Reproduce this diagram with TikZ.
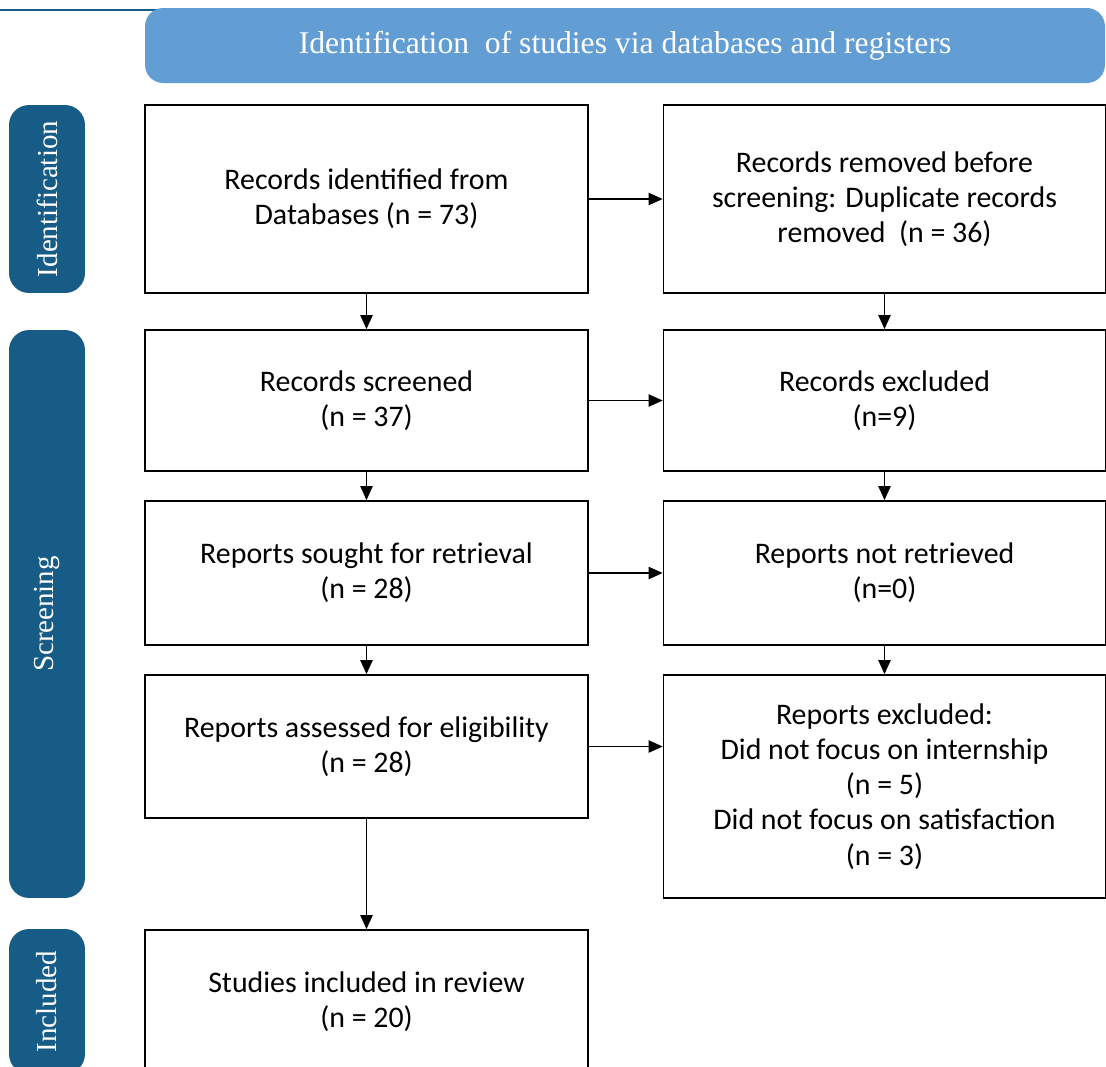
\documentclass[tikz,border=0pt]{standalone}
\usepackage{fontspec}
\setmainfont{Liberation Serif}
\newfontfamily\boxfont{Carlito}
\usetikzlibrary{arrows.meta}

\definecolor{barblue}{RGB}{98,158,212}
\definecolor{sideblue}{RGB}{23,91,135}

\tikzset{
  box/.style={draw, line width=1pt, align=center, minimum width=8.86cm,
    font=\boxfont\fontsize{17}{20}\selectfont},
  sidebar/.style={fill=sideblue, text=white, rounded corners=0.4cm, rotate=90,
    minimum height=1.52cm, font=\fontsize{16.5}{19}\selectfont},
  pfeil/.style={line width=0.8pt, -{Triangle[length=8pt,width=7pt]}}
}

\begin{document}
\begin{tikzpicture}[x=0.02cm, y=-0.02cm]
  \useasboundingbox (0,0) rectangle (1106,1066);

  % header
  \draw[sideblue, line width=1.2pt] (0,10) -- (170,10);
  \node (Kopf) at (625,45.5) [fill=barblue, text=white, rounded corners=0.36cm,
    minimum width=19.2cm, minimum height=1.5cm, font=\fontsize{18}{21}\selectfont]
    {Identification~ of studies via databases and registers};

  % phases
  \node (PhaseIdent) at (47,199) [sidebar, minimum width=3.76cm] {Identification};
  \node (PhaseScreen) at (47,614) [sidebar, minimum width=11.36cm] {Screening};
  \node (PhaseIncl) at (47,1001.5) [sidebar, minimum width=2.9cm] {Included};

  % left column
  \node (RecIdent) at (366.5,199) [box, minimum height=3.76cm] {Records identified from\\Databases (n = 73)};
  \node (RecScreened) at (366.5,400.5) [box, minimum height=2.82cm] {Records screened\\(n = 37)};
  \node (RepSought) at (366.5,573) [box, minimum height=2.88cm] {Reports sought for retrieval\\(n = 28)};
  \node (RepAssessed) at (366.5,746.5) [box, minimum height=2.86cm] {Reports assessed for eligibility\\(n = 28)};
  \node (StudIncl) at (366.5,1002) [box, minimum height=2.88cm] {Studies included in review\\(n = 20)};

  % right column
  \node (RecRemoved) at (884.5,199) [box, minimum width=8.84cm, minimum height=3.76cm]
    {Records removed before\\screening: Duplicate records\\removed~ (n = 36)};
  \node (RecExcl) at (884.5,400.5) [box, minimum width=8.84cm, minimum height=2.82cm] {Records excluded\\(n=9)};
  \node (RepNotRetr) at (884.5,573) [box, minimum width=8.84cm, minimum height=2.88cm] {Reports not retrieved\\(n=0)};
  \node (RepExcl) at (884.5,786.5) [box, minimum width=8.84cm, minimum height=4.46cm]
    {Reports excluded:\\Did not focus on internship\\(n = 5)\\Did not focus on satisfaction\\(n = 3)};

  \draw[pfeil] (RecIdent) -- (RecRemoved);
  \draw[pfeil] (RecScreened) -- (RecExcl);
  \draw[pfeil] (RepSought) -- (RepNotRetr);
  \draw[pfeil] (RepAssessed.east) -- (RepAssessed.east -| RepExcl.west);

  \draw[pfeil] (RecIdent) -- (RecScreened);
  \draw[pfeil] (RecScreened) -- (RepSought);
  \draw[pfeil] (RepSought) -- (RepAssessed);
  \draw[pfeil] (RepAssessed) -- (StudIncl);
  \draw[pfeil] (RecRemoved) -- (RecExcl);
  \draw[pfeil] (RecExcl) -- (RepNotRetr);
  \draw[pfeil] (RepNotRetr) -- (RepExcl);

\end{tikzpicture}
\end{document}
